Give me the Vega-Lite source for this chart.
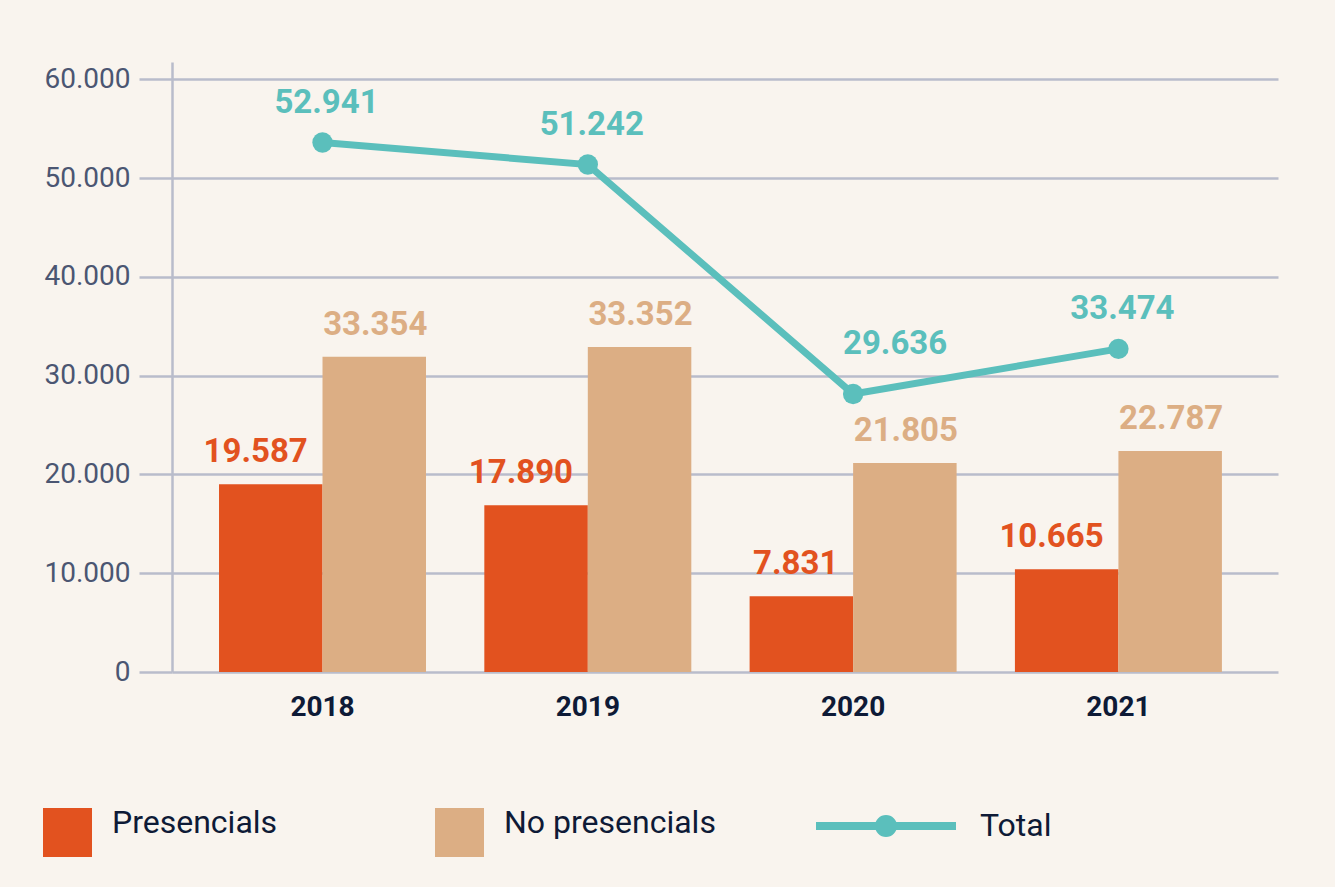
{
  "$schema": "https://vega.github.io/schema/vega-lite/v6.json",
  "width": 1106,
  "height": 610,
  "autosize": {"type": "none"},
  "padding": {"left": 172, "top": 62, "right": 57, "bottom": 215},
  "background": "#f9f4ee",
  "config": {"view": {"stroke": null}, "font": "Roboto"},
  "datasets": {
    "bars": [
      {"year": "2018", "serie": "Presencials", "value": 19016, "label": "19.587"},
      {"year": "2018", "serie": "No presencials", "value": 31900, "label": "33.354"},
      {"year": "2019", "serie": "Presencials", "value": 16886, "label": "17.890"},
      {"year": "2019", "serie": "No presencials", "value": 32910, "label": "33.352"},
      {"year": "2020", "serie": "Presencials", "value": 7657, "label": "7.831"},
      {"year": "2020", "serie": "No presencials", "value": 21146, "label": "21.805"},
      {"year": "2021", "serie": "Presencials", "value": 10396, "label": "10.665"},
      {"year": "2021", "serie": "No presencials", "value": 22363, "label": "22.787"}
    ],
    "total": [
      {"year": "2018", "serie": "Total", "value": 53600, "label": "52.941"},
      {"year": "2019", "serie": "Total", "value": 51370, "label": "51.242"},
      {"year": "2020", "serie": "Total", "value": 28144, "label": "29.636"},
      {"year": "2021", "serie": "Total", "value": 32710, "label": "33.474"}
    ]
  },
  "layer": [
    {
      "data": {"name": "bars"},
      "mark": {"type": "bar"},
      "encoding": {
        "x": {"field": "year", "type": "nominal", "title": null,
          "scale": {"paddingInner": 0.2198, "paddingOuter": 0.1943, "align": 0.456},
          "axis": {"domain": false, "ticks": false, "grid": false, "labelPadding": 21, "labelFont": "Roboto", "labelFontWeight": "bold", "labelFontSize": 28, "labelColor": "#0e1a36", "labelAngle": 0}},
        "xOffset": {"field": "serie", "type": "nominal", "scale": {"domain": ["Presencials", "No presencials"], "paddingInner": 0, "paddingOuter": 0}},
        "y": {"field": "value", "type": "quantitative", "title": null,
          "scale": {"domain": [0, 61750], "nice": false},
          "axis": {"values": [0, 10000, 20000, 30000, 40000, 50000, 60000], "grid": true, "gridColor": "#b9bccb", "gridWidth": 2.5, "domainColor": "#b9bccb", "domainWidth": 2.5, "tickColor": "#b9bccb", "tickWidth": 2.5, "tickSize": 33, "labelPadding": 9, "labelFont": "Roboto", "labelFontSize": 28, "labelColor": "#4b5672", "labelExpr": "replace(format(datum.value, ','), ',', '.')"}},
        "color": {"field": "serie", "type": "nominal",
          "scale": {"domain": ["Presencials", "No presencials"], "range": ["#e2521f", "#dcae84"]},
          "legend": {"title": null, "orient": "none", "legendX": -129, "legendY": 746, "direction": "horizontal", "symbolType": "square", "symbolSize": 2401, "symbolStrokeWidth": 0, "symbolOpacity": 1, "labelFont": "Roboto", "labelFontSize": 32, "labelColor": "#0e1a36", "labelOffset": 20, "columnPadding": 157, "labelBaseline": "alphabetic", "padding": 0, "labelLimit": 400}}
      }
    },
    {
      "data": {"name": "bars"},
      "transform": [{"filter": "datum.serie == 'Presencials'"}],
      "mark": {"type": "text", "align": "right", "baseline": "alphabetic", "dx": 37, "dy": -22, "font": "Roboto", "fontWeight": "bold", "fontSize": 33, "color": "#e2521f"},
      "encoding": {
        "x": {"field": "year", "type": "nominal", "title": null, "scale": {"paddingInner": 0.2198, "paddingOuter": 0.1943, "align": 0.456}},
        "xOffset": {"field": "serie", "type": "nominal", "scale": {"domain": ["Presencials", "No presencials"], "paddingInner": 0, "paddingOuter": 0}},
        "y": {"field": "value", "type": "quantitative", "title": null, "scale": {"domain": [0, 61750], "nice": false}},
        "text": {"field": "label"}
      }
    },
    {
      "data": {"name": "bars"},
      "transform": [{"filter": "datum.serie == 'No presencials'"}],
      "mark": {"type": "text", "align": "center", "baseline": "alphabetic", "dx": 1, "dy": -22, "font": "Roboto", "fontWeight": "bold", "fontSize": 33, "color": "#dcae84"},
      "encoding": {
        "x": {"field": "year", "type": "nominal", "title": null, "scale": {"paddingInner": 0.2198, "paddingOuter": 0.1943, "align": 0.456}},
        "xOffset": {"field": "serie", "type": "nominal", "scale": {"domain": ["Presencials", "No presencials"], "paddingInner": 0, "paddingOuter": 0}},
        "y": {"field": "value", "type": "quantitative", "title": null, "scale": {"domain": [0, 61750], "nice": false}},
        "text": {"field": "label"}
      }
    },
    {
      "data": {"name": "total"},
      "mark": {"type": "line", "strokeWidth": 7},
      "encoding": {
        "x": {"field": "year", "type": "nominal", "title": null, "scale": {"paddingInner": 0.2198, "paddingOuter": 0.1943, "align": 0.456}},
        "y": {"field": "value", "type": "quantitative", "title": null, "scale": {"domain": [0, 61750], "nice": false}},
        "stroke": {"field": "serie", "type": "nominal",
          "scale": {"domain": ["Total"], "range": ["#5bbfbc"]},
          "legend": {"title": null, "orient": "none", "legendX": 640, "legendY": 690, "symbolType": "M-1,0L1,0M-0.1,0A0.1,0.1 0 1,1 0.1,0A0.1,0.1 0 1,1 -0.1,0Z", "symbolSize": 19600, "symbolStrokeWidth": 8, "symbolFillColor": "#5bbfbc", "symbolOpacity": 1, "labelFont": "Roboto", "labelFontSize": 32, "labelColor": "#0e1a36", "labelOffset": 20, "labelBaseline": "middle", "padding": 0,
            "encode": {"symbols": {"update": {"fill": {"value": "#5bbfbc"}, "strokeWidth": {"value": 8}, "stroke": {"value": "#5bbfbc"}}}}}}
      }
    },
    {
      "data": {"name": "total"},
      "mark": {"type": "circle", "size": 415, "color": "#5bbfbc", "opacity": 1},
      "encoding": {
        "x": {"field": "year", "type": "nominal", "title": null, "scale": {"paddingInner": 0.2198, "paddingOuter": 0.1943, "align": 0.456}},
        "y": {"field": "value", "type": "quantitative", "title": null, "scale": {"domain": [0, 61750], "nice": false}}
      }
    },
    {
      "data": {"name": "total"},
      "transform": [{"filter": "datum.year != '2020'"}],
      "mark": {"type": "text", "align": "center", "baseline": "alphabetic", "dx": 4, "dy": -30, "font": "Roboto", "fontWeight": "bold", "fontSize": 33, "color": "#5bbfbc"},
      "encoding": {
        "x": {"field": "year", "type": "nominal", "title": null, "scale": {"paddingInner": 0.2198, "paddingOuter": 0.1943, "align": 0.456}},
        "y": {"field": "value", "type": "quantitative", "title": null, "scale": {"domain": [0, 61750], "nice": false}},
        "text": {"field": "label"}
      }
    },
    {
      "data": {"name": "total"},
      "transform": [{"filter": "datum.year == '2020'"}],
      "mark": {"type": "text", "align": "center", "baseline": "alphabetic", "dx": 42, "dy": -40, "font": "Roboto", "fontWeight": "bold", "fontSize": 33, "color": "#5bbfbc"},
      "encoding": {
        "x": {"field": "year", "type": "nominal", "title": null, "scale": {"paddingInner": 0.2198, "paddingOuter": 0.1943, "align": 0.456}},
        "y": {"field": "value", "type": "quantitative", "title": null, "scale": {"domain": [0, 61750], "nice": false}},
        "text": {"field": "label"}
      }
    }
  ]
}
